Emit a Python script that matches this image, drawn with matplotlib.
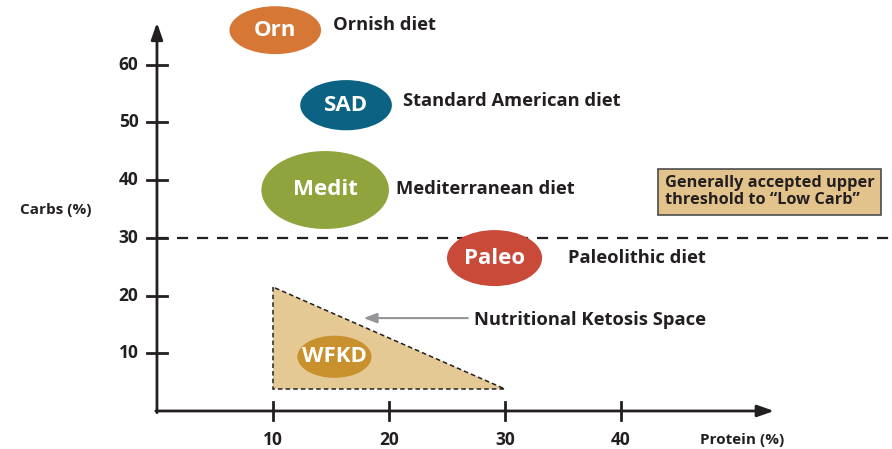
import matplotlib.pyplot as plt
from matplotlib.patches import Ellipse, Polygon

plt.rcParams['font.family'] = ['Open Sans', 'DejaVu Sans']

# diet ellipses: (protein %, carbs %)
diets = ['Orn', 'SAD', 'Medit', 'Paleo', 'WFKD']
names = ['Ornish diet', 'Standard American diet', 'Mediterranean diet', 'Paleolithic diet', '']
protein = [10.2, 16.3, 14.5, 29.1, 15.3]
carbs = [66.0, 53.0, 38.3, 26.5, 9.4]
widths = [7.9, 7.9, 11.0, 8.2, 6.4]
heights = [8.3, 8.7, 13.5, 9.7, 7.3]
colors = ['#D67735', '#0B6282', '#8FA43C', '#C94A38', '#C8912D']
name_x = [15.2, 21.2, 20.6, 35.4, 0]
name_y = [66.9, 53.7, 38.5, 26.5, 0]

# ketosis triangle (protein, carbs)
tri_protein = [10, 10, 30]
tri_carbs = [21.5, 3.8, 3.8]

threshold = 30
xticks = [10, 20, 30, 40]
yticks = [10, 20, 30, 40, 50, 60]

dark = '#231F20'
fig = plt.figure(figsize=(8.92, 4.49), dpi=100)
ax = fig.add_axes([0, 0, 1, 1])
ax.set_xlim(-13.53, 63.36)
ax.set_ylim(-6.59, 71.23)
ax.axis('off')

# triangle
ax.add_patch(Polygon(list(zip(tri_protein, tri_carbs)), closed=True,
                     facecolor='#E5C995', edgecolor=dark, linestyle=(0, (3, 2)),
                     linewidth=1.1, zorder=1))

# threshold line
ax.plot([0, 63.36], [threshold, threshold], color=dark, linestyle=(0, (5, 4)),
        linewidth=1.6, zorder=1)

# axes with arrows
ax.annotate('', xy=(0, 67.3), xytext=(0, -0.3),
            arrowprops=dict(arrowstyle='-|>,head_length=1.0,head_width=0.35',
                            color=dark, lw=2, shrinkA=0, shrinkB=0))
ax.annotate('', xy=(53.2, 0), xytext=(-0.1, 0),
            arrowprops=dict(arrowstyle='-|>,head_length=1.0,head_width=0.35',
                            color=dark, lw=2, shrinkA=0, shrinkB=0))
for t in xticks:
    ax.plot([t, t], [-1.6, 1.6], color=dark, lw=2)
    ax.text(t, -5.0, str(t), ha='center', va='center', fontsize=12.5,
            fontweight='bold', color=dark)
for t in yticks:
    ax.plot([-0.85, 0.85], [t, t], color=dark, lw=2)
    ax.text(-1.6, t, str(t), ha='right', va='center', fontsize=12.5,
            fontweight='bold', color=dark)
ax.text(46.8, -5.0, 'Protein (%)', ha='left', va='center', fontsize=11,
        fontweight='bold', color=dark)
ax.text(-11.8, 34.8, 'Carbs (%)', ha='left', va='center', fontsize=11,
        fontweight='bold', color=dark)

# ellipses
for d, n, x, y, w, h, c, nx, ny in zip(diets, names, protein, carbs, widths,
                                       heights, colors, name_x, name_y):
    ax.add_patch(Ellipse((x, y), w, h, facecolor=c, edgecolor='none', zorder=2))
    ax.text(x, y, d, ha='center', va='center', fontsize=16,
            fontweight='bold', color='white', zorder=3)
    if n:
        ax.text(nx, ny, n, ha='left', va='center', fontsize=13.2,
                fontweight='bold', color=dark)

# ketosis label and arrow
ax.annotate('', xy=(17.8, 16.1), xytext=(26.8, 16.1),
            arrowprops=dict(arrowstyle='-|>,head_length=0.8,head_width=0.3',
                            color='#939598', lw=1.5, shrinkA=0, shrinkB=0))
ax.text(27.3, 15.8, 'Nutritional Ketosis Space', ha='left', va='center',
        fontsize=13.2, fontweight='bold', color=dark)

# threshold box
ax.text(52.8, 38.0, 'Generally accepted upper\nthreshold to \u201cLow Carb\u201d',
        ha='center', va='center', multialignment='left', fontsize=11.8,
        fontweight='bold', color=dark, linespacing=1.1,
        bbox=dict(boxstyle='square,pad=0.4', facecolor='#E2C38C',
                  edgecolor='#4D4D4D', lw=1.2))

fig.savefig('out.png', dpi=100)
